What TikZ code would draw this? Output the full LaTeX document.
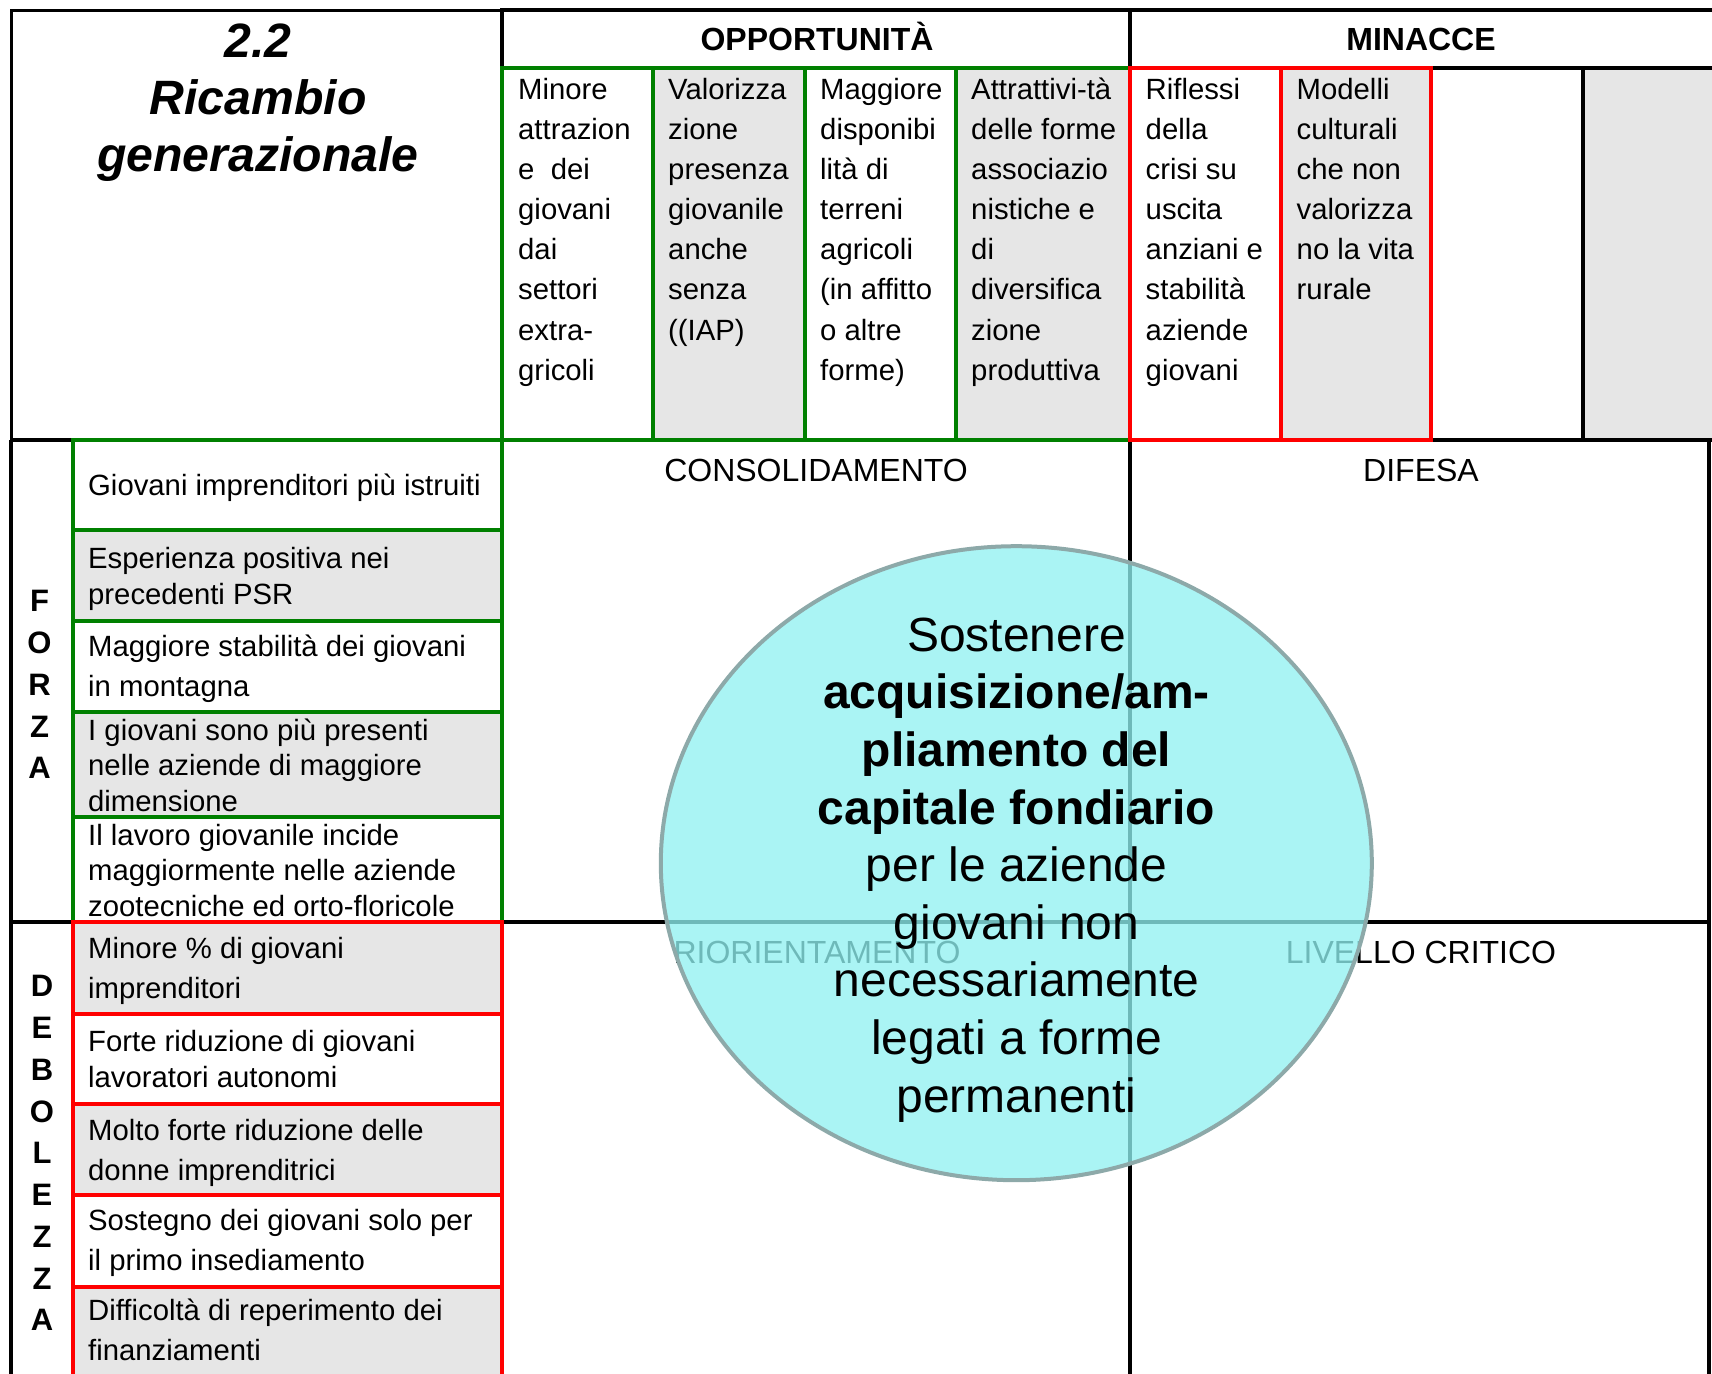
\documentclass[tikz,border=0pt]{standalone}
\usepackage[RGB]{xcolor}
\usepackage{fontspec}
\setmainfont{Liberation Sans}
\usepackage{tikz}
\definecolor{OPP}{RGB}{0,128,0}
\definecolor{MIN}{RGB}{255,0,0}
\definecolor{C}{RGB}{230,230,230}
\definecolor{E}{RGB}{144,241,241}
\definecolor{EB}{RGB}{141,169,169}
\newcommand{\drawthick}{\draw[line width=4.5pt]}
\newcommand{\fsz}[2]{\fontsize{#1}{#2}\selectfont}
% header cell: fill, border, left, right
\newcommand{\headcell}[4]{
\filldraw[fill=#1,draw=#2,line width=4.5pt] (#3,68)--(#4,68)--(#4,440)--(#3,440)--cycle;
}
% item cell: fill, border, top, bottom
\newcommand{\itemcell}[4]{
\filldraw[fill=#1,draw=#2,line width=4.5pt] (73,#3)--(502,#3)--(502,#4)--(73,#4)--cycle;
}
\tikzset{
  headtext/.style={anchor=north west,inner sep=0pt,align=left,font=\fsz{29.3}{40.1}},
  itemtext/.style={anchor=north west,inner sep=0pt,align=left,font=\fsz{29.3}{35.5}},
  itemloose/.style={font=\fsz{29.3}{40}},
  quadtext/.style={inner sep=0pt,font=\fsz{32}{38}},
  bigtext/.style={anchor=base,inner sep=0pt,font=\bfseries\fsz{32}{38}},
  sideletter/.style={inner sep=0pt,font=\bfseries\fsz{31}{38}},
}

\begin{document}
\begin{tikzpicture}[x=1pt,y=-1pt]
\useasboundingbox (0,0) rectangle (1712,1373);
\clip (0,0) rectangle (1712,1373);
\fill[C] (1583,68) rectangle (1712,440);
\draw[line width=3pt] (11,10) rectangle (502,440);
\drawthick (502,10) rectangle (1716,68);
\drawthick (1130,10)--(1130,68);
\drawthick (1431,68)--(1716,68);
\drawthick (1431,440)--(1716,440);
\drawthick (1583,68)--(1583,440);
\drawthick (11,440)--(11,1380);
\drawthick (11,440)--(73,440);
\drawthick (11,922)--(73,922);
\drawthick (1130,440)--(1130,1380);
\drawthick (502,922)--(1709,922);
\drawthick (1709,440)--(1709,1380);
\headcell{white}{OPP}{502}{653}\headcell{C}{OPP}{653}{805}
\headcell{white}{OPP}{805}{956}\headcell{C}{OPP}{956}{1130}
\headcell{white}{MIN}{1130}{1281}\headcell{C}{MIN}{1281}{1431}
\itemcell{white}{OPP}{440}{530}\itemcell{C}{OPP}{530}{621}\itemcell{white}{OPP}{621}{712}
\itemcell{C}{OPP}{712}{817}\itemcell{white}{OPP}{817}{922}
\itemcell{C}{MIN}{922}{1014}\itemcell{white}{MIN}{1014}{1104}\itemcell{C}{MIN}{1104}{1195}
\itemcell{white}{MIN}{1195}{1287}\itemcell{C}{MIN}{1287}{1378}

\node[anchor=north,inner sep=0pt,align=center,font=\bfseries\itshape\fsz{48.2}{57.3}] (title) at (258,16.9)
  {\strut 2.2\\Ricambio\\generazionale};
\node[bigtext] (opp) at (817,50.7) {OPPORTUNITÀ};
\node[bigtext] (min) at (1421,50.7) {MINACCE};

\node[headtext] (h1) at (518,71.2) {\strut Minore\\attrazion\\e\ \ dei\\giovani\\dai\\settori\\extra-\\gricoli};
\node[headtext] (h2) at (668,71.2) {\strut Valorizza\\zione\\presenza\\giovanile\\anche\\senza\\((IAP)};
\node[headtext] (h3) at (820,71.2) {\strut Maggiore\\disponibi\\lità di\\terreni\\agricoli\\(in affitto\\o altre\\forme)};
\node[headtext] (h4) at (971,71.2) {\strut Attrattivi-tà\\delle forme\\associazio\\nistiche e\\di\\diversifica\\zione\\produttiva};
\node[headtext] (h5) at (1145.5,71.2) {\strut Riflessi\\della\\crisi su\\uscita\\anziani e\\stabilità\\aziende\\giovani};
\node[headtext] (h6) at (1296.5,71.2) {\strut Modelli\\culturali\\che non\\valorizza\\no la vita\\rurale};

\node[itemtext] (s1) at (88,470.2) {\strut Giovani imprenditori più istruiti};
\node[itemtext] (s2) at (88,543.5) {\strut Esperienza positiva nei\\precedenti PSR};
\node[itemtext,itemloose] (s3) at (88,628.7) {\strut Maggiore stabilità dei giovani\\in montagna};
\node[itemtext] (s4) at (88,715.2) {\strut I giovani sono più presenti\\nelle aziende di maggiore\\dimensione};
\node[itemtext] (s5) at (88,820.2) {\strut Il lavoro giovanile incide\\maggiormente nelle aziende\\zootecniche ed orto-floricole};
\node[itemtext,itemloose] (w1) at (88,930.3) {\strut Minore \% di giovani\\imprenditori};
\node[itemtext] (w2) at (88,1026.9) {\strut Forte riduzione di giovani\\lavoratori autonomi};
\node[itemtext,itemloose] (w3) at (88,1112) {\strut Molto forte riduzione delle\\donne imprenditrici};
\node[itemtext,itemloose] (w4) at (88,1202.7) {\strut Sostegno dei giovani solo per\\il primo insediamento};
\node[itemtext,itemloose] (w5) at (88,1292) {\strut Difficoltà di reperimento dei\\finanziamenti};

\foreach \ch [count=\i] in {F,O,R,Z,A}
  \node[sideletter] (forza\i) at (39.5,{601.3+41.75*(\i-1)}) {\ch};
\foreach \ch [count=\i] in {D,E,B,O,L,E,Z,Z,A}
  \node[sideletter] (debo\i) at (42,{986.2+41.76*(\i-1)}) {\ch};

\node[quadtext] (cons) at (816,470) {CONSOLIDAMENTO};
\node[quadtext] (dif) at (1421,470) {DIFESA};
\node[quadtext] (rior) at (817,952) {RIORIENTAMENTO};
\node[quadtext] (crit) at (1421,952) {LIVELLO CRITICO};

\filldraw[fill=E,fill opacity=0.77,draw=EB,line width=4pt] (1016.3,863.2) ellipse [x radius=355.5pt,y radius=317pt];
\node[anchor=north,inner sep=0pt,align=center,font=\fsz{48}{57.6}] (goal) at (1016.5,610.7)
  {\strut Sostenere\\\textbf{acquisizione/am-}\\\textbf{pliamento del}\\\textbf{capitale fondiario}\\per le aziende\\giovani non\\necessariamente\\legati a forme\\permanenti};
\end{tikzpicture}
\end{document}
